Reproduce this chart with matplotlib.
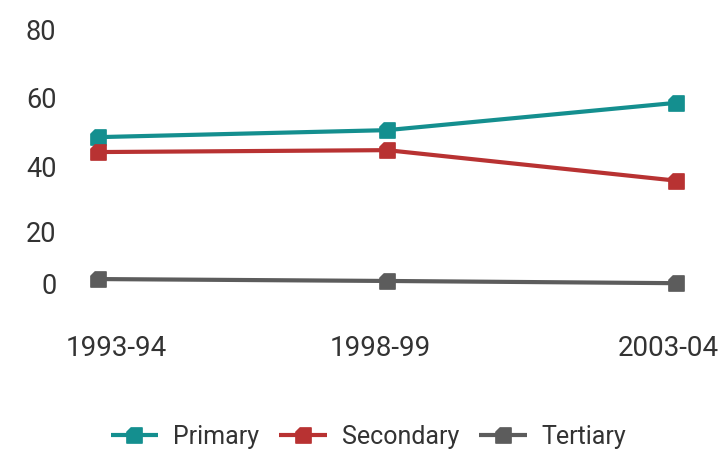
import matplotlib
matplotlib.use("Agg")
import matplotlib.pyplot as plt
from matplotlib.path import Path
from matplotlib.transforms import Affine2D

categories = ["1993-94", "1998-99", "2003-04"]
primary = [46.1, 48.3, 56.9]
secondary = [41.4, 42.0, 32.4]
tertiary = [1.4, 0.8, 0.1]
series_names = ["Primary", "Secondary", "Tertiary"]
colors = ["#148f8f", "#b83232", "#5c5c5c"]
yticks = [0, 20, 40, 60, 80]

plt.rcParams['font.family'] = ['Roboto', 'DejaVu Sans']
text_color = "#333333"

# square marker with clipped top-left corner
verts = [(-1, -1), (1, -1), (1, 1), (-0.45, 1), (-1, 0.45), (-1, -1)]
codes = [Path.MOVETO] + [Path.LINETO] * 4 + [Path.CLOSEPOLY]
marker = Path(verts, codes)

W, H = 726, 450
fig = plt.figure(figsize=(W / 100, H / 100), dpi=100)
y0_px, y80_px = 283.5, 29.5
ymin, ymax = -5, 80
px_per = (y0_px - y80_px) / 80
bottom_px = y0_px + (0 - ymin) * px_per
left_px, right_px = 98, 676
ax = fig.add_axes([left_px / W, 1 - bottom_px / H, (right_px - left_px) / W, (bottom_px - y80_px) / H])

x = list(range(len(categories)))
for vals, name, c in zip([primary, secondary, tertiary], series_names, colors):
    ax.plot(x, vals, color=c, lw=3, marker=marker, markersize=11, label=name,
            clip_on=False, solid_capstyle='butt')

ax.set_xlim(0, len(categories) - 1)
ax.set_ylim(ymin, ymax)
ax.set_yticks(yticks)
ax.set_yticklabels([str(t) for t in yticks])
ax.set_xticks(x)
ax.set_xticklabels(categories)
for s in ax.spines.values():
    s.set_visible(False)
ax.tick_params(axis='y', length=0, pad=30, labelsize=19.5, labelcolor=text_color)
ax.tick_params(axis='x', length=0, pad=25.5, labelsize=20, labelcolor=text_color)

# label placement nudges (pixels) to match the reference layout
x_nudges = [18.5, -6.5, -8]
y_nudges = [0, -11.5, -10, -4, 0]
for tick, dx in zip(ax.xaxis.get_major_ticks(), x_nudges):
    lab = tick.label1
    lab.set_transform(lab.get_transform() + Affine2D().translate(dx, 0))
for tick, dy in zip(ax.yaxis.get_major_ticks(), y_nudges):
    lab = tick.label1
    lab.set_transform(lab.get_transform() + Affine2D().translate(0, dy))

leg = fig.legend(loc='center', bbox_to_anchor=(368.5 / W, 1 - 437 / H), ncol=3, frameon=False,
                 fontsize=18, handlelength=1.9, columnspacing=0.8, handletextpad=0.6,
                 labelcolor=text_color)

fig.savefig("out.png", dpi=100)
